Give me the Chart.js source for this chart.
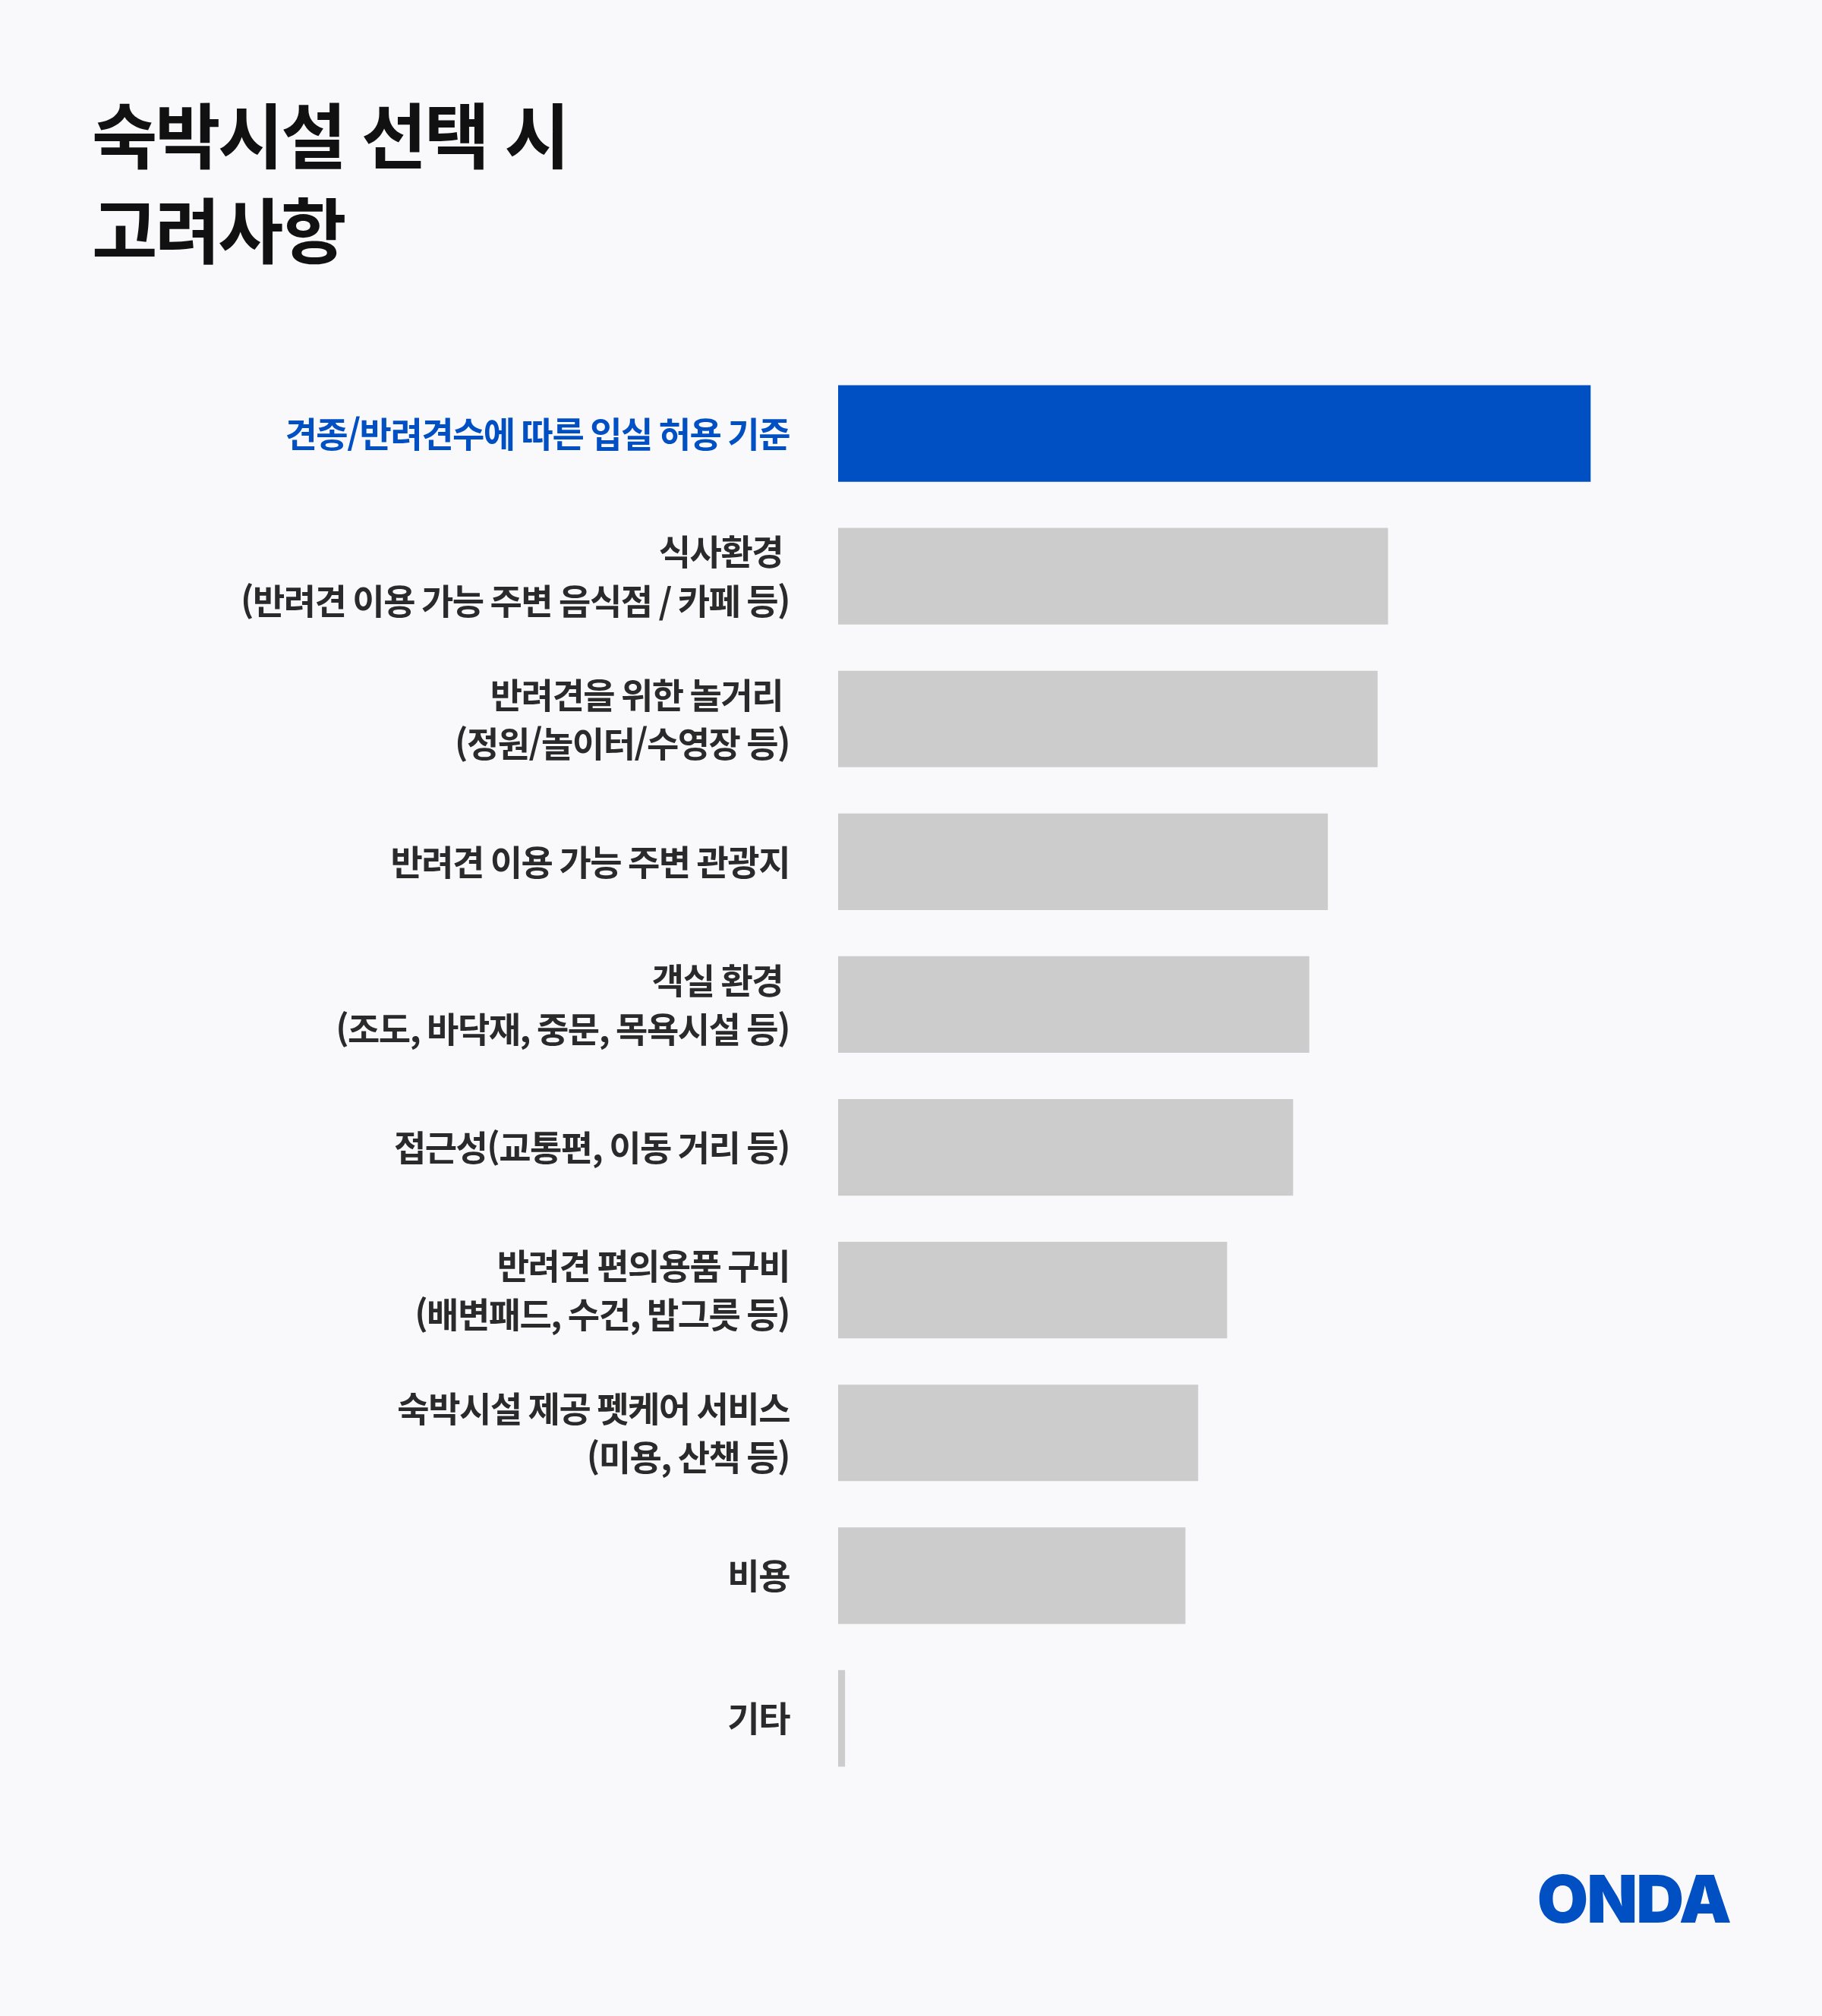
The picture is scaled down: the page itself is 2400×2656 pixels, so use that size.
<!DOCTYPE html>
<html lang="ko">
<head>
<meta charset="utf-8">
<script src="https://cdn.jsdelivr.net/npm/chart.js@4.4.0/dist/chart.umd.min.js"></script>
<style>
  html, body { margin: 0; padding: 0; background: #F9F9FB; }
  #wrap { position: relative; width: 2400px; height: 2656px; }
  #chart { position: absolute; left: 0; top: 0; }
  .titulo {
    position: absolute; left: 121px; top: 112px; margin: 0;
    font-family: "Noto Sans CJK KR", sans-serif; font-weight: 700;
    font-size: 94px; line-height: 125px; letter-spacing: -3.5px; color: #111111;
  }
  .logo {
    position: absolute; right: 121px; top: 2458px;
    font-family: Inter, sans-serif; font-weight: 900;
    font-size: 87px; line-height: 1; letter-spacing: -2px; color: #0050C4;
  }
</style>
</head>
<body>
<div id="wrap">
  <h1 class="titulo">숙박시설 선택 시<br>고려사항</h1>
  <canvas id="chart" width="2400" height="2656"></canvas>
  <div class="logo">ONDA</div>
</div>
<script>
/* categorias (rótulos do eixo y) */
const categorias = [
  "견종/반려견수에 따른 입실 허용 기준",
  ["식사환경 ", "(반려견 이용 가능 주변 음식점 / 카페 등)"],
  ["반려견을 위한 놀거리 ", "(정원/놀이터/수영장 등)"],
  "반려견 이용 가능 주변 관광지",
  ["객실 환경 ", "(조도, 바닥재, 중문, 목욕시설 등)"],
  "접근성(교통편, 이동 거리 등)",
  ["반려견 편의용품 구비", "(배변패드, 수건, 밥그릇 등)"],
  ["숙박시설 제공 펫케어 서비스", "(미용, 산책 등)"],
  "비용",
  "기타"
];

/* valores (escala sem eixo visível) */
const valores = [65.0, 47.5, 46.6, 42.3, 40.7, 39.3, 33.6, 31.1, 30.0, 0.6];

/* cores: primeira barra em destaque */
const corDestaque = "#0050C4";
const corCinza = "#CCCCCC";
const cores = valores.map((v, i) => (i === 0 ? corDestaque : corCinza));

const data = {
  labels: categorias,
  datasets: [
    {
      data: valores,
      backgroundColor: cores,
      borderWidth: 0,
      categoryPercentage: 1,
      barPercentage: 0.676,
    },
  ],
};

// espaçamento entre letras mais apertado nos rótulos
const apertaTexto = {
  id: "apertaTexto",
  beforeDraw(chart) {
    chart.ctx.letterSpacing = "-1.5px";
  },
};

const config = {
  type: "bar",
  data: data,
  plugins: [apertaTexto],
  options: {
    indexAxis: "y",
    responsive: false,
    animation: false,
    layout: {
      padding: { top: 477, bottom: 298, right: 76, left: 0 },
    },
    plugins: {
      legend: { display: false },
      tooltip: { enabled: false },
    },
    scales: {
      x: {
        display: false,
        min: 0,
        max: 80,
      },
      y: {
        grid: { display: false, drawTicks: false },
        border: { display: false },
        afterFit: function (eixo) { eixo.width = 1104; }, // barras começam em x=1104
        ticks: {
          padding: 64,
          color: (ctx) => (ctx.index === 0 ? corDestaque : "#2A2A2A"),
          font: {
            family: '"Noto Sans CJK KR", sans-serif',
            size: 46,
            weight: "bold",
            lineHeight: 1.4,
          },
        },
      },
    },
  },
};

let myChart = new Chart(document.getElementById("chart"), config);
</script>
</body>
</html>
